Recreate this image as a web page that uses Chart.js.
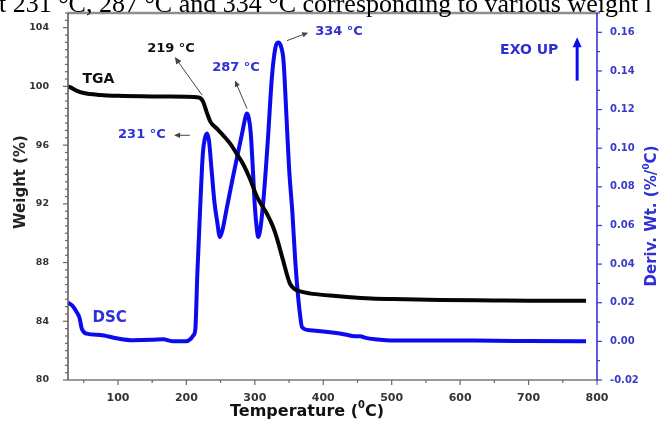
<!DOCTYPE html>
<html>
<head>
<meta charset="utf-8">
<script src="https://cdn.jsdelivr.net/npm/chart.js@4.4.1/dist/chart.umd.min.js"></script>
<style>
  html, body { margin: 0; padding: 0; background: #fff; }
  #wrap { width: 659px; height: 421px; position: relative; overflow: hidden; }
</style>
</head>
<body>
<div id="wrap"><canvas id="chart" width="659" height="421"></canvas></div>
<script>
// ================== DATA ==================
const tgaTemp   = [27, 32, 40, 50, 74, 100, 150, 200, 218, 224, 230, 235, 245, 255, 264, 275, 283, 293, 303, 318, 326, 332, 341, 351, 358, 365, 380, 410, 435, 470, 520, 571, 650, 700, 784];
const tgaWeight = [100.0, 99.9, 99.7, 99.55, 99.42, 99.36, 99.32, 99.3, 99.25, 99.0, 98.2, 97.6, 97.1, 96.6, 96.1, 95.3, 94.7, 93.7, 92.5, 91.3, 90.5, 89.7, 88.2, 86.6, 86.2, 86.05, 85.9, 85.75, 85.65, 85.55, 85.5, 85.45, 85.42, 85.4, 85.4];

const dscTemp  = [27, 33, 40, 44, 47, 54, 74, 98, 122, 150, 166, 181, 200, 206, 210, 213, 216, 220, 224, 227, 230, 233, 237, 241, 245, 249, 253, 259, 268, 275, 281, 285, 288, 291, 294, 297, 300, 303, 305, 308, 313, 319, 325, 330, 334, 338, 342, 346, 350, 355, 359, 363, 366, 369, 381, 410, 432, 446, 454, 462, 480, 498, 571, 650, 700, 784];
const dscDeriv = [0.020, 0.0186, 0.015, 0.012, 0.0067, 0.004, 0.0033, 0.0016, 0.0006, 0.0008, 0.0011, 0.0, 0.0, 0.0012, 0.003, 0.006, 0.035, 0.068, 0.097, 0.105, 0.1076, 0.104, 0.088, 0.072, 0.062, 0.054, 0.058, 0.069, 0.085, 0.097, 0.107, 0.114, 0.118, 0.116, 0.108, 0.09, 0.07, 0.058, 0.054, 0.058, 0.075, 0.104, 0.137, 0.152, 0.1547, 0.153, 0.145, 0.118, 0.09, 0.066, 0.042, 0.024, 0.014, 0.0073, 0.0057, 0.0047, 0.0036, 0.0026, 0.0027, 0.0018, 0.001, 0.0005, 0.0005, 0.0003, 0.0002, 0.0];

const tempTicks   = [100, 200, 300, 400, 500, 600, 700, 800];
const weightTicks = [80, 84, 88, 92, 96, 100, 104];
const derivTicks  = [-0.02, 0.00, 0.02, 0.04, 0.06, 0.08, 0.10, 0.12, 0.14, 0.16];

const FONT = "DejaVu Sans";
const BLUE = "#0b0bef";
const LABEL_BLUE = "#2f2fd6";

// ================== HELPERS ==================
// text with a raised small part, e.g. "(" + "0" + "C)"
function drawRich(ctx, parts, x, y, size, color, rot) {
    ctx.save();
    ctx.translate(x, y);
    if (rot) ctx.rotate(rot);
    ctx.fillStyle = color;
    ctx.textBaseline = "middle";
    ctx.textAlign = "left";
    let total = 0;
    parts.forEach(p => {
        ctx.font = "bold " + (p.sup ? size * 0.62 : size) + "px " + FONT;
        p.w = ctx.measureText(p.t).width;
        total += p.w;
    });
    let cx = -total / 2;
    parts.forEach(p => {
        ctx.font = "bold " + (p.sup ? size * 0.62 : size) + "px " + FONT;
        ctx.fillText(p.t, cx, p.sup ? -size * 0.38 : 0);
        cx += p.w;
    });
    ctx.restore();
}

function arrow(ctx, x1, y1, x2, y2, color, width, head) {
    // line from (x1,y1) to (x2,y2), head at (x2,y2)
    let ang = Math.atan2(y2 - y1, x2 - x1);
    ctx.save();
    ctx.strokeStyle = color;
    ctx.fillStyle = color;
    ctx.lineWidth = width;
    ctx.beginPath();
    ctx.moveTo(x1, y1);
    ctx.lineTo(x2 - Math.cos(ang) * head * 0.6, y2 - Math.sin(ang) * head * 0.6);
    ctx.stroke();
    ctx.beginPath();
    ctx.moveTo(x2, y2);
    ctx.lineTo(x2 - head * Math.cos(ang) + head * 0.45 * Math.sin(ang), y2 - head * Math.sin(ang) - head * 0.45 * Math.cos(ang));
    ctx.lineTo(x2 - head * Math.cos(ang) - head * 0.45 * Math.sin(ang), y2 - head * Math.sin(ang) + head * 0.45 * Math.cos(ang));
    ctx.closePath();
    ctx.fill();
    ctx.restore();
}

// keep Chart.js from reserving label overhang so the plot box sits where the figure has it
function fixWidth(w) {
    return s => { s.width = w; s.paddingTop = 0; s.paddingBottom = 0; };
}

// ================== FRAME / TICKS / LABELS PLUGIN ==================
const decorations = {
    id: "decorations",
    afterDraw(chart) {
        const ctx = chart.ctx;
        const a = chart.chartArea;
        const sx = chart.scales.x, sw = chart.scales.yW, sd = chart.scales.yD;

        // ---- frame ----
        ctx.save();
        ctx.lineCap = "butt";
        ctx.strokeStyle = "#8f8f8f";
        ctx.lineWidth = 2.5;
        ctx.beginPath(); ctx.moveTo(a.left, a.top); ctx.lineTo(a.right, a.top); ctx.stroke();
        ctx.strokeStyle = "#7a7a7a";
        ctx.lineWidth = 1.5;
        ctx.beginPath(); ctx.moveTo(a.left, a.bottom); ctx.lineTo(a.right, a.bottom); ctx.stroke();
        ctx.strokeStyle = "#555";
        ctx.beginPath(); ctx.moveTo(a.left, a.top); ctx.lineTo(a.left, a.bottom); ctx.stroke();
        ctx.strokeStyle = "#2a2ad2";
        ctx.beginPath(); ctx.moveTo(a.right, a.top); ctx.lineTo(a.right, a.bottom + 1); ctx.stroke();

        // ---- ticks ----
        ctx.lineWidth = 1.2;
        ctx.strokeStyle = "#666";
        for (let v = 80; v <= 105.001; v += 0.5) {
            let y = sw.getPixelForValue(v);
            let major = Math.abs(v % 4) < 1e-6;
            ctx.beginPath(); ctx.moveTo(a.left, y); ctx.lineTo(a.left - (major ? 5 : 3), y); ctx.stroke();
        }
        for (let v = 50; v <= 800; v += 50) {
            let x = sx.getPixelForValue(v);
            let major = v % 100 === 0;
            ctx.beginPath(); ctx.moveTo(x, a.bottom); ctx.lineTo(x, a.bottom + (major ? 5 : 3)); ctx.stroke();
        }
        ctx.strokeStyle = "#3a3ad0";
        for (let i = -2; i <= 17; i++) {
            let v = i / 100;
            let y = sd.getPixelForValue(v);
            let major = i % 2 === 0;
            ctx.beginPath(); ctx.moveTo(a.right, y); ctx.lineTo(a.right + (major ? 5 : 3), y); ctx.stroke();
        }
        ctx.restore();

        // ---- axis titles ----
        drawRich(ctx, [{ t: "Temperature (" }, { t: "0", sup: true }, { t: "C)" }], 307, 412, 16, "#111", 0);
        drawRich(ctx, [{ t: "Weight (%)" }], 21, 182, 15, "#222", -Math.PI / 2);
        drawRich(ctx, [{ t: "Deriv. Wt. (%/" }, { t: "0", sup: true }, { t: "C)" }], 652, 216, 15, LABEL_BLUE, -Math.PI / 2);

        // ---- annotations (placed in data coordinates) ----
        const X = v => sx.getPixelForValue(v);
        const W = v => sw.getPixelForValue(v);
        const D = v => sd.getPixelForValue(v);

        drawRich(ctx, [{ t: "TGA" }], X(71.5), W(100.5), 14, "#111", 0);
        drawRich(ctx, [{ t: "DSC" }], X(88), D(0.0119), 15, LABEL_BLUE, 0);

        drawRich(ctx, [{ t: "219 °C" }], X(177.5), W(102.6), 13, "#111", 0);
        arrow(ctx, X(223), W(99.4), X(183), W(102.0), "#444", 1, 7);

        drawRich(ctx, [{ t: "231 °C" }], X(135), D(0.107), 13, LABEL_BLUE, 0);
        arrow(ctx, X(205), D(0.1067), X(182), D(0.1067), "#444", 1, 6);

        drawRich(ctx, [{ t: "287 °C" }], X(272.5), D(0.1417), 13, LABEL_BLUE, 0);
        arrow(ctx, X(288.6), D(0.1205), X(271), D(0.135), "#444", 1, 6);

        drawRich(ctx, [{ t: "334 °C" }], X(423), D(0.1604), 13, LABEL_BLUE, 0);
        arrow(ctx, X(347), D(0.1557), X(378), D(0.1598), "#444", 1, 6);

        drawRich(ctx, [{ t: "EXO UP" }], X(701), D(0.1505), 14, LABEL_BLUE, 0);
        arrow(ctx, X(771), D(0.135), X(771), D(0.1575), BLUE, 3, 10);

        // ---- caption fragment above the figure ----
        ctx.save();
        ctx.font = "26px 'Liberation Serif'";
        ctx.fillStyle = "#000";
        ctx.textBaseline = "alphabetic";
        ctx.textAlign = "left";
        ctx.fillText("t 231 °C, 287 °C and 334 °C corresponding to various weight l", -1, 12);
        ctx.restore();
    }
};

// ================== CHART ==================
const ctx = document.getElementById("chart");
new Chart(ctx, {
    type: "line",
    data: {
        datasets: [
            {
                label: "TGA",
                data: tgaTemp.map((t, i) => ({ x: t, y: tgaWeight[i] })),
                yAxisID: "yW",
                borderColor: "#050505",
                borderWidth: 4,
                pointRadius: 0,
                cubicInterpolationMode: "monotone",
                fill: false
            },
            {
                label: "DSC",
                data: dscTemp.map((t, i) => ({ x: t, y: dscDeriv[i] })),
                yAxisID: "yD",
                borderColor: BLUE,
                borderWidth: 4,
                pointRadius: 0,
                cubicInterpolationMode: "monotone",
                fill: false
            }
        ]
    },
    options: {
        responsive: false,
        animation: false,
        devicePixelRatio: 1,
        layout: { padding: { top: 13, left: 0, right: 0, bottom: 0 } },
        plugins: { legend: { display: false }, tooltip: { enabled: false } },
        scales: {
            x: {
                type: "linear",
                min: 27,
                max: 800,
                afterBuildTicks: s => { s.ticks = tempTicks.map(v => ({ value: v })); },
                afterFit: s => { s.height = 41; s.paddingLeft = 0; s.paddingRight = 0; },
                grid: { display: false, drawTicks: false },
                border: { display: false },
                ticks: {
                    color: "#333",
                    font: { family: FONT, size: 11, weight: "bold" },
                    padding: 12,
                    maxRotation: 0,
                    autoSkip: false,
                    callback: v => String(v)
                }
            },
            yW: {
                type: "linear",
                position: "left",
                min: 80,
                max: 105,
                afterBuildTicks: s => { s.ticks = weightTicks.map(v => ({ value: v })); },
                afterFit: fixWidth(68),
                grid: { display: false, drawTicks: false },
                border: { display: false },
                ticks: {
                    color: "#333",
                    font: { family: FONT, size: 9.5, weight: "bold" },
                    padding: 19,
                    autoSkip: false,
                    callback: v => String(v)
                }
            },
            yD: {
                type: "linear",
                position: "right",
                min: -0.02,
                max: 0.17,
                afterBuildTicks: s => { s.ticks = derivTicks.map(v => ({ value: v })); },
                afterFit: fixWidth(62),
                grid: { display: false, drawTicks: false },
                border: { display: false },
                ticks: {
                    color: "#3a3ac8",
                    font: { family: FONT, size: 10, weight: "bold" },
                    padding: 13,
                    autoSkip: false,
                    callback: v => v.toFixed(2)
                }
            }
        }
    },
    plugins: [decorations]
});
</script>
</body>
</html>
